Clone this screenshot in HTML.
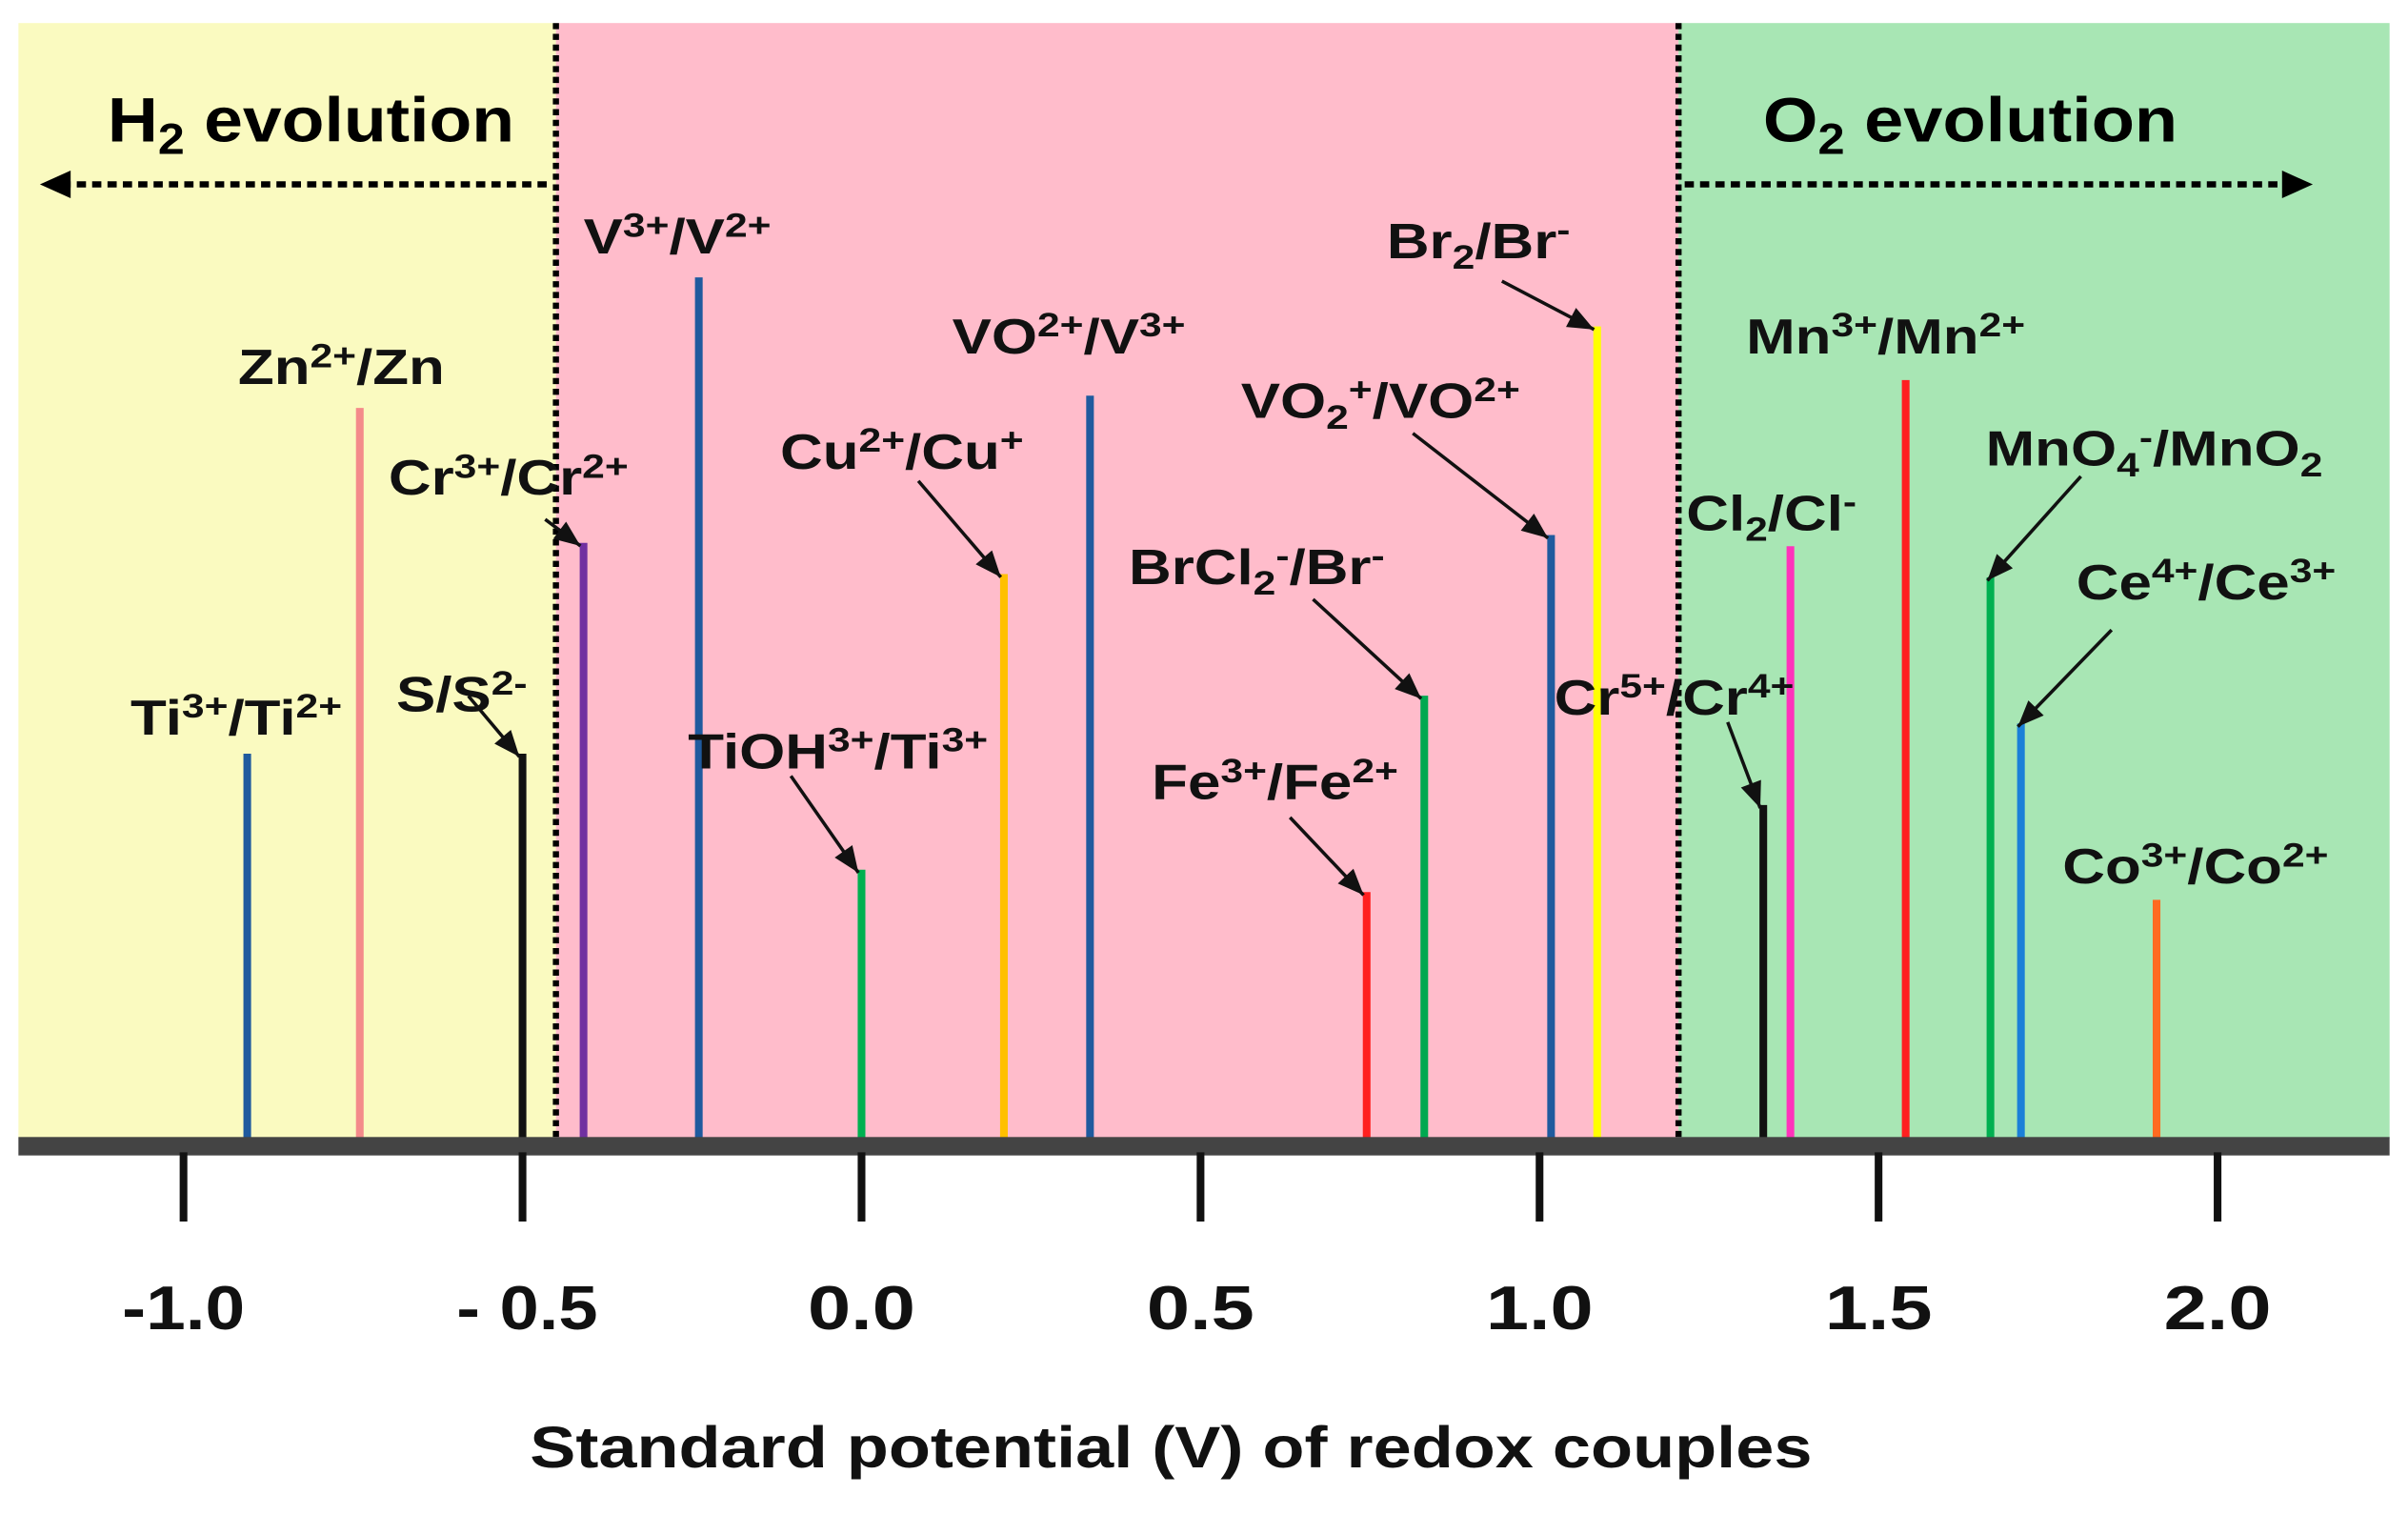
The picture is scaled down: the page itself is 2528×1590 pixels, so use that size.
<!DOCTYPE html>
<html><head><meta charset="utf-8">
<style>
html,body{margin:0;padding:0;background:#fff;}
svg{display:block;font-family:"Liberation Sans",Arial,sans-serif;font-weight:bold;}
</style></head>
<body>
<svg id="chart" width="2528" height="1590" viewBox="0 0 1568 986" preserveAspectRatio="none" xmlns="http://www.w3.org/2000/svg">
<g id="bg">
<rect x="12" y="15" width="350" height="726" fill="#fafac0"/>
<rect x="362" y="15" width="731" height="726" fill="#ffbccb"/>
<rect x="1093" y="15" width="463" height="726" fill="#a8e6b4"/>
<line x1="362" y1="15" x2="362" y2="741" stroke="#000" stroke-width="4" stroke-dasharray="4,3"/>
<line x1="1093" y1="15" x2="1093" y2="741" stroke="#000" stroke-width="4" stroke-dasharray="4,3"/>
<line x1="356" y1="120" x2="40" y2="120" stroke="#000" stroke-width="4" stroke-dasharray="6,4"/>
<path d="M26,120 L46,111 L46,129 z" fill="#000"/>
<line x1="1097" y1="120" x2="1490" y2="120" stroke="#000" stroke-width="4" stroke-dasharray="6,4"/>
<path d="M1506,120 L1486,111 L1486,129 z" fill="#000"/>
<text x="70" y="92" font-size="41" textLength="265" lengthAdjust="spacingAndGlyphs">H<tspan font-size="28" dy="8">2</tspan><tspan dy="-8"> evolution</tspan></text>
<text x="1148" y="92" font-size="41" textLength="270" lengthAdjust="spacingAndGlyphs">O<tspan font-size="28" dy="8">2</tspan><tspan dy="-8"> evolution</tspan></text>
</g>
<g id="bars"></g>
<g id="axis"></g>
<g id="labels"></g>
</svg>
<script>
const coupleNames = ["Ti3/Ti2","Zn","S","Cr3/Cr2","V3/V2","TiOH","Cu","VO2+/V3+","Fe","BrCl2","VO2+/VO2+","Br2","Cr5/Cr4","Cl2","Mn3/Mn2","MnO4","Ce","Co"];
const potentials = [-0.906,-0.74,-0.50,-0.41,-0.24,0.0,0.21,0.337,0.745,0.83,1.017,1.085,1.33,1.37,1.54,1.665,1.71,1.91];
const heights = [0.345,0.655,0.345,0.534,0.772,0.241,0.506,0.666,0.221,0.397,0.541,0.728,0.299,0.531,0.68,0.503,0.372,0.214];
const colors = ["#1f5a9e","#f48a8a","#111111","#7030a0","#1f5a9e","#00b050","#ffc000","#1f5a9e","#ff2020","#00a850","#1f5a9e","#ffff00","#111111","#ff33bb","#ff2020","#00b050","#1a80d8","#ff6a20"];
const tickValues = [-1.0,-0.5,0.0,0.5,1.0,1.5,2.0];
const tickLabels = ["-1.0","- 0.5","0.0","0.5","1.0","1.5","2.0"];

const NS="http://www.w3.org/2000/svg";
const X0=561, XPER=441.5, YB=741, YH=726;
function x(v){return X0+v*XPER;}
function y(h){return YB-h*YH;}
function mk(tag,attrs,parent){const e=document.createElementNS(NS,tag);for(const k in attrs)e.setAttribute(k,attrs[k]);parent.appendChild(e);return e;}

const gb=document.getElementById('bars');
potentials.forEach((p,i)=>{
  const b=mk('line',{x1:x(p),x2:x(p),y1:YB,y2:y(heights[i]),stroke:colors[i],'stroke-width':5},gb);
  
  
});

const ga=document.getElementById('axis');
const ab=mk('rect',{x:12,y:740,width:1544,height:12,fill:'#444'},ga);


tickValues.forEach((t,i)=>{
  const tk=mk('line',{x1:x(t),x2:x(t),y1:750,y2:795,stroke:'#111','stroke-width':5},ga);
  
  
  const w = i==1?92:(i==0?80:70);
  const tl=mk('text',{x:x(t)+(i==1?3:0)-w/2,y:865,'font-size':40,fill:'#111',textLength:w,lengthAdjust:'spacingAndGlyphs'},ga);
  tl.textContent=tickLabels[i];
  
  
});
const at=mk('text',{x:345,y:955,'font-size':38,fill:'#111',textLength:835,lengthAdjust:'spacingAndGlyphs'},ga);
at.textContent='Standard potential (V) of redox couples';



const labelDefs=[
 [[["Ti","n"],["3+","p"],["/Ti","n"],["2+","p"]],85,478,-1],
 [[["Zn","n"],["2+","p"],["/Zn","n"]],155,250,-1],
 [[["Cr","n"],["3+","p"],["/Cr","n"],["2+","p"]],253,322,3,[355,338]],
 [[["S/S","n"],["2-","p"]],258,463,2,[305,453]],
 [[["V","n"],["3+","p"],["/V","n"],["2+","p"]],380,165,-1],
 [[["TiOH","n"],["3+","p"],["/Ti","n"],["3+","p"]],448,500,5,[515,505]],
 [[["Cu","n"],["2+","p"],["/Cu","n"],["+","p"]],508,305,6,[598,313]],
 [[["VO","n"],["2+","p"],["/V","n"],["3+","p"]],620,230,-1],
 [[["BrCl","n"],["2","b"],["-","p"],["/Br","n"],["-","p"]],735,380,9,[855,390]],
 [[["Fe","n"],["3+","p"],["/Fe","n"],["2+","p"]],750,520,8,[840,532]],
 [[["VO","n"],["2","b"],["+","p"],["/VO","n"],["2+","p"]],808,272,10,[920,282]],
 [[["Br","n"],["2","b"],["/Br","n"],["-","p"]],903,168,11,[978,183]],
 [[["Cr","n"],["5+","p"],["/Cr","n"],["4+","p"]],1012,465,12,[1125,470]],
 [[["Cl","n"],["2","b"],["/Cl","n"],["-","p"]],1098,345,-1],
 [[["Mn","n"],["3+","p"],["/Mn","n"],["2+","p"]],1137,230,-1],
 [[["MnO","n"],["4","b"],["-","p"],["/MnO","n"],["2","b"]],1293,303,15,[1355,310]],
 [[["Ce","n"],["4+","p"],["/Ce","n"],["3+","p"]],1352,390,16,[1375,410]],
 [[["Co","n"],["3+","p"],["/Co","n"],["2+","p"]],1343,575,-1]
];
const gl=document.getElementById('labels');
labelDefs.forEach((d,i)=>{
  const t=mk('text',{x:0,y:0,'font-size':32,fill:'#111',transform:`translate(${d[1]},${d[2]}) scale(1.2,1)`},gl);
  
  
  let shift=0;
  d[0].forEach(pt=>{
    const s=document.createElementNS(NS,'tspan');
    let target = pt[1]=='p'?-11:(pt[1]=='b'?7:0);
    s.setAttribute('dy',target-shift); shift=target;
    if(pt[1]!='n') s.setAttribute('font-size',22);
    s.textContent=pt[0];
    t.appendChild(s);
  });
  if(d[3]>=0){
    const bi=d[3];
    const ex=x(potentials[bi])-2, ey=y(heights[bi])+2;
    const a=mk('line',{x1:d[4][0],y1:d[4][1],x2:ex,y2:ey,stroke:'#111','stroke-width':2.2},gl);
    
    
    const ang=Math.atan2(ey-d[4][1],ex-d[4][0]);
    const L=17,W=7;
    const bx=ex-L*Math.cos(ang), by=ey-L*Math.sin(ang);
    const p=mk('path',{d:`M${ex},${ey} L${bx-W*Math.sin(ang)},${by+W*Math.cos(ang)} L${bx+W*Math.sin(ang)},${by-W*Math.cos(ang)} z`,fill:'#111'},gl);
    
    
  }
});
</script>
</body></html>
